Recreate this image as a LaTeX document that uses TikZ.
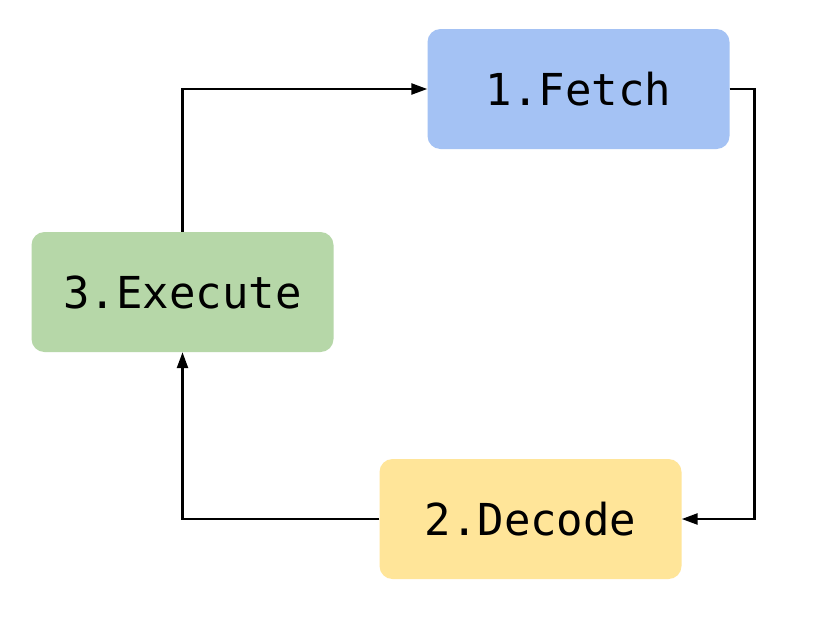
\documentclass[tikz,border=0pt]{standalone}
\usepackage{fontspec}
\setmonofont{DejaVu Sans Mono}
\usetikzlibrary{arrows.meta}
\definecolor{cblue}{HTML}{A4C2F4}
\definecolor{cgreen}{HTML}{B6D7A8}
\definecolor{cyellow}{HTML}{FFE599}
\begin{document}
\begin{tikzpicture}[x=1pt,y=-1pt,
  stage/.style={rectangle,rounded corners=13pt,minimum width=302pt,minimum height=120pt,inner sep=0pt,
    font=\ttfamily\fontsize{44}{50}\selectfont,text=black},
  conn/.style={line width=2.5pt,-{Triangle[length=16pt,width=11pt]}}]
\fill[white] (0,0) rectangle (827,619);
\useasboundingbox (0,0) rectangle (827,619);
\node[stage,fill=cblue] (fetch) at (578.5,89) {1.Fetch};
\node[stage,fill=cyellow] (decode) at (530.5,519) {2.Decode};
\node[stage,fill=cgreen] (exec) at (182.5,292) {3.Execute};
\draw[conn] (exec.north) |- (fetch.west);
\draw[conn] (fetch.east) -- ++(25,0) |- (decode.east);
\draw[conn] (decode.west) -| (exec.south);
\end{tikzpicture}
\end{document}
